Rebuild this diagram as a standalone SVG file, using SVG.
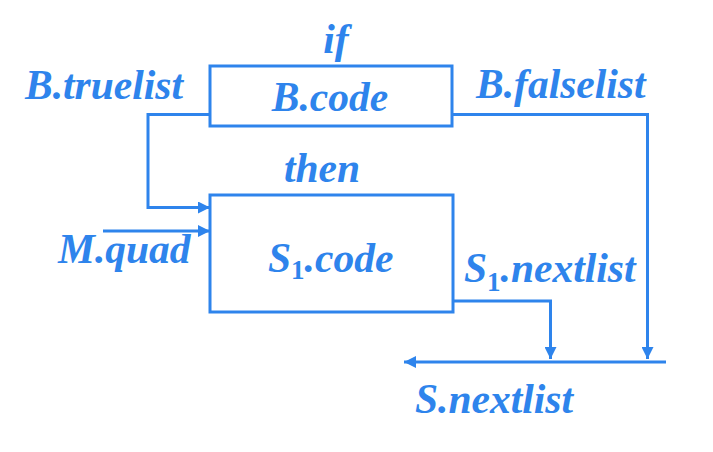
<svg xmlns="http://www.w3.org/2000/svg" width="713" height="452" viewBox="0 0 713 452">
<defs>
<style>
.t{font-family:"Liberation Serif","Times New Roman",serif;font-weight:bold;font-style:italic;font-size:41.5px;fill:#2E84EC}
.sub{font-size:27px;font-style:normal}
.box{fill:none;stroke:#2E84EC;stroke-width:3}
.ln{fill:none;stroke:#2E84EC;stroke-width:3}
</style>
<marker id="ah" viewBox="0 0 12 12" refX="12" refY="6" markerWidth="12" markerHeight="12" markerUnits="userSpaceOnUse" orient="auto">
<path d="M0,0 L12,6 L0,12 Z" fill="#2E84EC"/>
</marker>
</defs>
<rect width="713" height="452" fill="#ffffff"/>
<g id="bcode">
<rect class="box" x="210" y="66" width="242" height="60"/>
<text class="t" x="330" y="111" text-anchor="middle">B.code</text>
</g>
<g id="s1code">
<rect class="box" x="210" y="195" width="243" height="117"/>
<text class="t" x="268" y="272">S<tspan class="sub" dy="7">1</tspan><tspan dy="-7">.code</tspan></text>
</g>
<g id="labels">
<text class="t" x="336" y="53" text-anchor="middle">if</text>
<text class="t" x="322" y="182" text-anchor="middle">then</text>
<text class="t" x="25" y="99">B.truelist</text>
<text class="t" x="58" y="263">M.quad</text>
<text class="t" x="476" y="98">B.falselist</text>
<text class="t" x="464" y="282">S<tspan class="sub" dy="9">1</tspan><tspan dy="-9">.nextlist</tspan></text>
<text class="t" x="415" y="413">S.nextlist</text>
</g>
<g id="connectors">
<polyline class="ln" points="210,114.5 148,114.5 148,207.5 210,207.5" marker-end="url(#ah)"/>
<line class="ln" x1="103" y1="231" x2="210" y2="231" marker-end="url(#ah)"/>
<polyline class="ln" points="452,114.5 647.5,114.5 647.5,359" marker-end="url(#ah)"/>
<polyline class="ln" points="453,301 550.5,301 550.5,359" marker-end="url(#ah)"/>
<line class="ln" x1="666" y1="362" x2="404" y2="362" marker-end="url(#ah)"/>
</g>
</svg>
